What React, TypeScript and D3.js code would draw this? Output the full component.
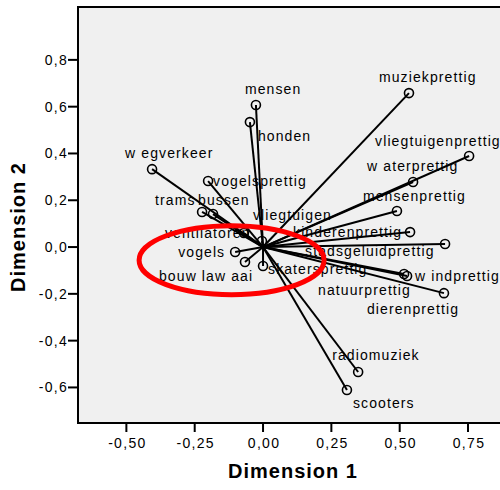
import React from "react";
import * as d3 from "d3";

const labels = [
  "muziekprettig", "mensen", "honden", "vliegtuigenprettig", "w aterprettig",
  "mensenprettig", "kinderenprettig", "stadsgeluidprettig", "w indprettig",
  "natuurprettig", "dierenprettig", "skatersprettig", "radiomuziek", "scooters",
  "w egverkeer", "vogelsprettig", "trams", "bussen", "ventilatoren", "vogels",
  "bouw law aai", "vliegtuigen",
];
const dim1 = [
  0.534, -0.026, -0.048, 0.754, 0.549, 0.490, 0.538, 0.666, 0.527, 0.516, 0.662,
  0.0, 0.348, 0.307, -0.406, -0.201, -0.223, -0.183, -0.070, -0.102, -0.066, -0.004,
];
const dim2 = [
  0.658, 0.607, 0.534, 0.389, 0.278, 0.154, 0.064, 0.013, -0.124, -0.115, -0.197,
  -0.081, -0.534, -0.611, 0.333, 0.282, 0.150, 0.141, 0.060, -0.021, -0.064, 0.026,
];
// label placement offsets (px) relative to each point
const labelDx = [-30, -11, 8, -94, -46, -34, -117, -140, 8, -86, -77, 5, -26, 6, -27, 5, -47, -15, -79, -57, -86, -9];
const labelDy = [-11, -11, 19, -10, -11, -10, 5, 12, 5, 21, 21, 8, -12, 18, -11, 5, -7, -9, 5, 5, 19, -21];

const xTicks = [-0.5, -0.25, 0, 0.25, 0.5, 0.75];
const yTicks = [-0.6, -0.4, -0.2, 0, 0.2, 0.4, 0.6, 0.8];

const FONT = "'Liberation Sans', Arial, sans-serif";

export default function App() {
  const left = 78, right = 503, top = 7, bottom = 423;
  const x = d3.scaleLinear().domain([-0.677, 0.878]).range([left, right]);
  const y = d3.scaleLinear().domain([-0.752, 1.026]).range([bottom, top]);
  const fmtX = (v: number) => d3.format(".2f")(v).replace(".", ",").replace("−", "-");
  const fmtY = (v: number) => d3.format(".1f")(v).replace(".", ",").replace("−", "-");
  const ex = x(-0.115), ey = y(-0.056);
  return (
    <svg width={500} height={490} style={{ position: "absolute", left: 0, top: 0, background: "#fff" }}
      fontFamily={FONT}>
      <rect x={left} y={top} width={right - left} height={bottom - top} fill="#f0f0f0" />
      {/* vectors */}
      {labels.map((l, i) => (
        <line key={"l" + i} x1={x(0)} y1={y(0)} x2={x(dim1[i])} y2={y(dim2[i])} stroke="#000" strokeWidth={2} />
      ))}
      {labels.map((l, i) => (
        <circle key={"c" + i} cx={x(dim1[i])} cy={y(dim2[i])} r={4.5} fill="none" stroke="#000" strokeWidth={1.6} />
      ))}
      {labels.map((l, i) => (
        <text key={"t" + i} x={x(dim1[i]) + labelDx[i]} y={y(dim2[i]) + labelDy[i]} fontSize={14}
          letterSpacing={1.1} fill="#000">{l}</text>
      ))}
      {/* frame */}
      <line x1={left} y1={top} x2={right} y2={top} stroke="#000" strokeWidth={2} />
      <line x1={left} y1={top - 1} x2={left} y2={bottom + 1} stroke="#000" strokeWidth={2} />
      <line x1={left} y1={bottom} x2={right} y2={bottom} stroke="#000" strokeWidth={2} />
      {/* y axis */}
      {yTicks.map((t) => (
        <g key={"y" + t}>
          <line x1={left - 10} x2={left} y1={y(t)} y2={y(t)} stroke="#000" strokeWidth={2} />
          <text x={left - 10} y={y(t) + 5} textAnchor="end" fontSize={14} letterSpacing={1.3}>{fmtY(t)}</text>
        </g>
      ))}
      {xTicks.map((t) => (
        <g key={"x" + t}>
          <line x1={x(t)} x2={x(t)} y1={bottom} y2={bottom + 9} stroke="#000" strokeWidth={2} />
          <text x={x(t) + 1} y={bottom + 25} textAnchor="middle" fontSize={14} letterSpacing={1.3}>{fmtX(t)}</text>
        </g>
      ))}
      <text x={293} y={478} textAnchor="middle" fontSize={20} fontWeight="bold" letterSpacing={1}>Dimension 1</text>
      <text transform={`translate(25,227) rotate(-90)`} textAnchor="middle" fontSize={20} fontWeight="bold" letterSpacing={1}>Dimension 2</text>
      {/* highlight ellipse */}
      <ellipse cx={ex} cy={ey} rx={92.5} ry={34.5} fill="none" stroke="#ff0000" strokeWidth={5} />
    </svg>
  );
}
